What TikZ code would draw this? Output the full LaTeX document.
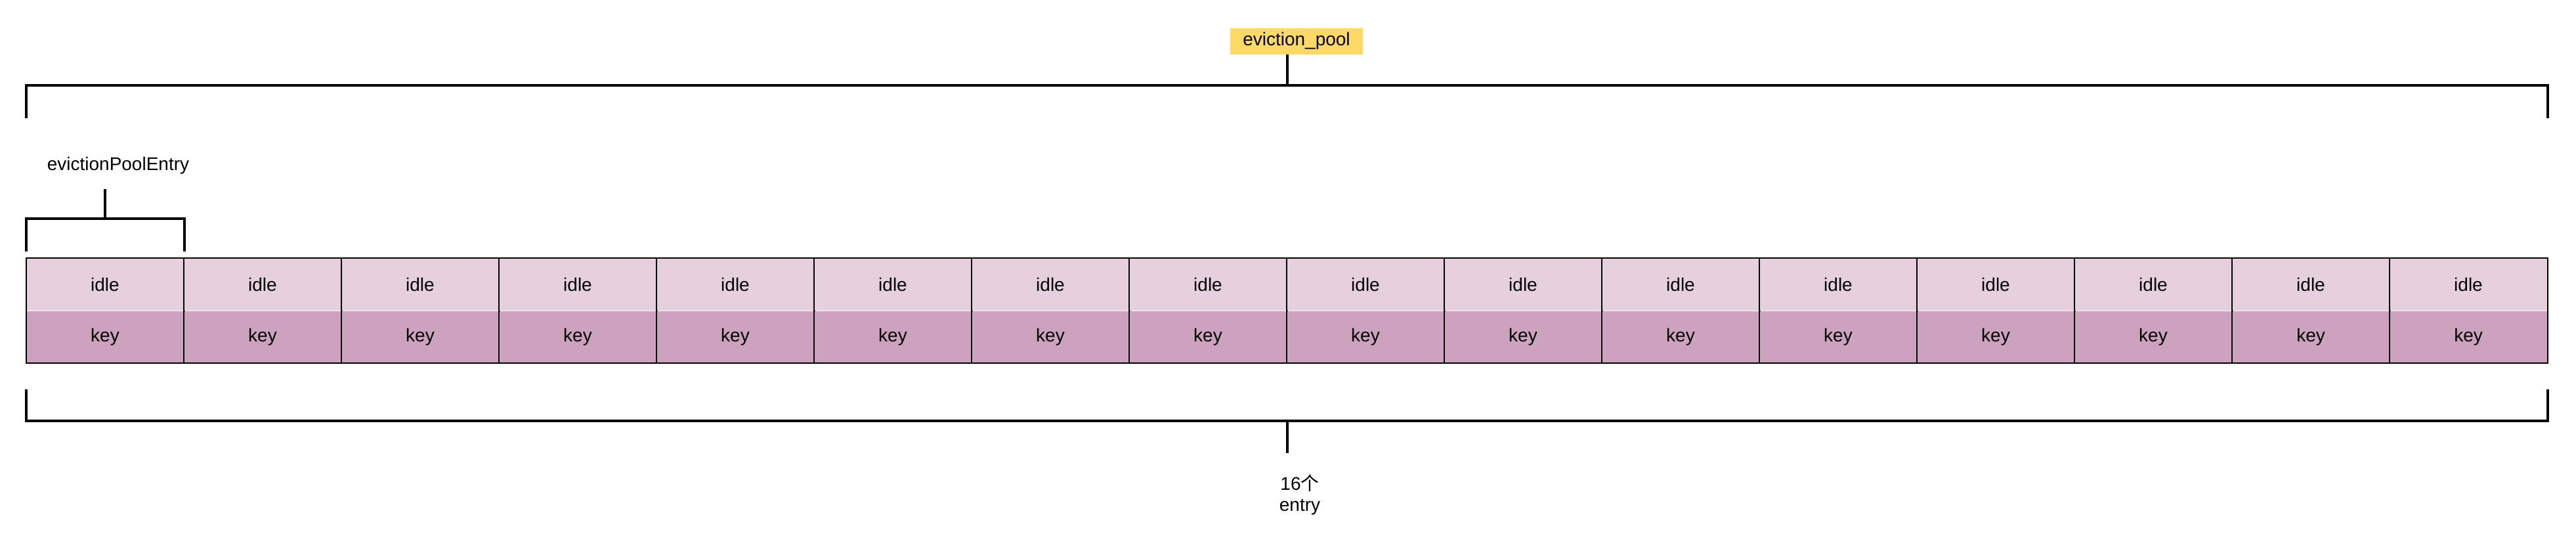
\documentclass[tikz,border=0pt]{standalone}
\usepackage{fontspec}
\setmainfont{Liberation Sans}
\newfontfamily\cjk{Noto Sans CJK SC}
\usepackage{tikz}
\usetikzlibrary{positioning, calc}

\definecolor{idlefill}{HTML}{E6D0DE}
\definecolor{keyfill}{HTML}{CDA2BE}
\definecolor{poolfill}{HTML}{FFD966}

\begin{document}
\begin{tikzpicture}[x=1pt, y=-1pt,
    every node/.style={font=\fontsize{11.2}{13}\selectfont, inner sep=0pt},
    idlecell/.style={fill=idlefill, minimum width=96pt, minimum height=32pt},
    keycell/.style={fill=keyfill, minimum width=96pt, minimum height=31.2pt},
    cellline/.style={draw=black, line width=0.8pt},
    bracket/.style={draw=black, line width=1.6pt}]
    \useasboundingbox (0,0) rectangle (1569.6,330.4);

    % the 16 entries of the pool
    \foreach \i in {1,...,16} {
        \node (idle\i) [idlecell] at ({16+96*(\i-0.5)}, 173.2) {idle};
        \node (key\i) [keycell, below=0pt of idle\i] {key};
        \draw [cellline] (idle\i.north west) rectangle (key\i.south east);
    }

    % labels
    \node (pool) [fill=poolfill, minimum width=81pt, minimum height=16pt] at (790,25) {eviction\_pool};
    \node (entry) at (72,101) {evictionPoolEntry};
    \node (count) [align=center] at (792,301.5) {16{\cjk 个}\\entry};

    % top bracket
    \draw [bracket] (idle1.north west |- 0,72) |- (idle16.north east |- 0,52) -- (idle16.north east |- 0,72);
    \draw [bracket] (idle8.north east |- pool.south) -- (idle8.north east |- 0,52);

    % one entry
    \draw [bracket] (idle1.north west |- 0,153) |- (idle1.north east |- 0,133) -- (idle1.north east |- 0,153);
    \draw [bracket] (idle1.north |- 0,115) -- (idle1.north |- 0,133);

    % bottom bracket
    \draw [bracket] (key1.south west |- 0,237) |- (key16.south east |- 0,256.4) -- (key16.south east |- 0,237);
    \draw [bracket] (key8.south east |- 0,256.4) -- (key8.south east |- 0,276);
\end{tikzpicture}
\end{document}
